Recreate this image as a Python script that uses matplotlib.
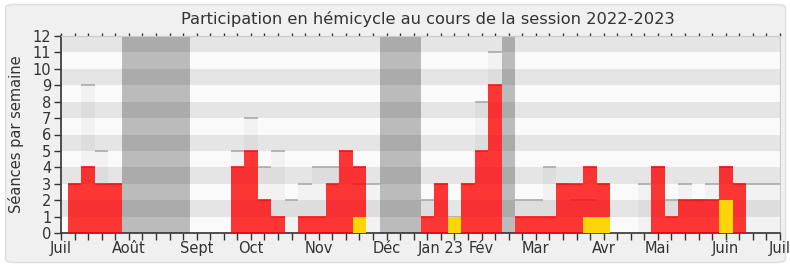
import numpy as np
import matplotlib
matplotlib.use("Agg")
import matplotlib.pyplot as plt
from matplotlib.patches import FancyBboxPatch

# semaines 1..53 (index de semaine depuis juillet 2022)
weeks = np.arange(1, 54)
presences = [3, 4, 3, 3, 0, 0, 0, 0, 0, 0, 0, 0, 4, 5, 2, 1, 0, 1, 1, 3, 5, 4, 0,
             0, 0, 0, 1, 3, 1, 3, 5, 9, 0, 1, 1, 1, 3, 3, 4, 3, 0, 0, 0, 4, 1, 2,
             2, 2, 4, 3, 0, 0, 0]
mediane = [3, 9, 5, 3, 0, 0, 0, 0, 0, 0, 0, 0, 5, 7, 4, 5, 2, 3, 4, 4, 5, 3, 3,
           0, 0, 0, 2, 3, 1, 3, 8, 11, 0, 2, 2, 4, 3, 2, 2, 3, 0, 0, 3, 4, 2, 3,
           2, 3, 4, 3, 3, 3, 3]
questions = [0, 0, 0, 0, 0, 0, 0, 0, 0, 0, 0, 0, 0, 0, 0, 0, 0, 0, 0, 0, 0, 1, 0,
             0, 0, 0, 0, 0, 1, 0, 0, 0, 0, 0, 0, 0, 0, 0, 1, 1, 0, 0, 0, 0, 0, 0,
             0, 0, 2, 0, 0, 0, 0]
vacances = [(5, 9), (24, 26), (33, 33)]
month_ticks = [0, 5, 10, 14, 19, 24, 28, 31, 35, 40, 44, 49, 53]
month_labels = ["Juil", "Août", "Sept", "Oct", "Nov", "Déc", "Jan 23", "Fév",
                "Mar", "Avr", "Mai", "Juin", "Juil"]

presences = np.array(presences)
mediane = np.array(mediane)
questions = np.array(questions)

fig = plt.figure(figsize=(7.9, 2.67), dpi=100)
fig.patch.set_facecolor("white")
panel = FancyBboxPatch((5.5 / 790, 4.5 / 267), 780 / 790, 258 / 267,
                       boxstyle="round,pad=0,rounding_size=0.012",
                       transform=fig.transFigure, facecolor="#f0f0f0",
                       edgecolor="#dedede", linewidth=1, zorder=-10)
fig.patches.append(panel)

ax = fig.add_axes([61 / 790, (267 - 233) / 267, 719 / 790, 197 / 267])
ax.set_facecolor("#fafafa")
ax.set_xlim(0, 53)
ax.set_ylim(0, 12)

# bandes horizontales
for y in range(1, 12, 2):
    ax.axhspan(y, y + 1, color="#e5e5e5", lw=0, zorder=0)

# médiane (barres grises translucides)
ax.bar(weeks, mediane, width=1.0, color="black", alpha=0.03, lw=0, zorder=1)
m = mediane > 0
ax.hlines(mediane[m], weeks[m] - 0.5, weeks[m] + 0.5, color="#aaaaaa", lw=1.2, zorder=1.5)

# vacances
for s, e in vacances:
    ax.axvspan(s - 0.5, e + 0.5, color="black", alpha=0.25, lw=0, zorder=2)

# présences
ax.bar(weeks, presences, width=1.0, color="#ff0000", alpha=0.78, lw=0, zorder=3)
p = presences > questions
ax.hlines(presences[p], weeks[p] - 0.5, weeks[p] + 0.5, color="#ff1010", lw=1.2, zorder=3.5)
ax.bar(weeks, questions, width=1.0, color="#ffd40a", lw=0, zorder=4)

ax.set_yticks(range(0, 13))
ax.set_xticks(month_ticks)
ax.set_xticklabels(month_labels)
ax.set_xticks(range(0, 54), minor=True)
ax.tick_params(axis="x", which="both", length=5, width=1, color="#333333",
               labelsize=10.5, labelcolor="#333333", pad=1)
ax.tick_params(axis="y", length=5, width=1, color="#333333", labelsize=10.5,
               labelcolor="#333333", pad=2)

top = ax.secondary_xaxis("top")
top.set_xticks(range(0, 54))
top.set_xticklabels([])
top.tick_params(length=2, width=1, color="#333333")
top.spines["top"].set_color("#cccccc")

for side in ["left", "bottom"]:
    ax.spines[side].set_color("#333333")
    ax.spines[side].set_linewidth(1.2)
for side in ["top", "right"]:
    ax.spines[side].set_color("#cccccc")

ax.set_ylabel("Séances par semaine", fontsize=10.5, color="#333333", labelpad=6)
fig.text(0.542, 0.93, "Participation en hémicycle au cours de la session 2022-2023",
         ha="center", va="center", fontsize=11.7, color="#333333")

fig.savefig("out.png", dpi=100)
